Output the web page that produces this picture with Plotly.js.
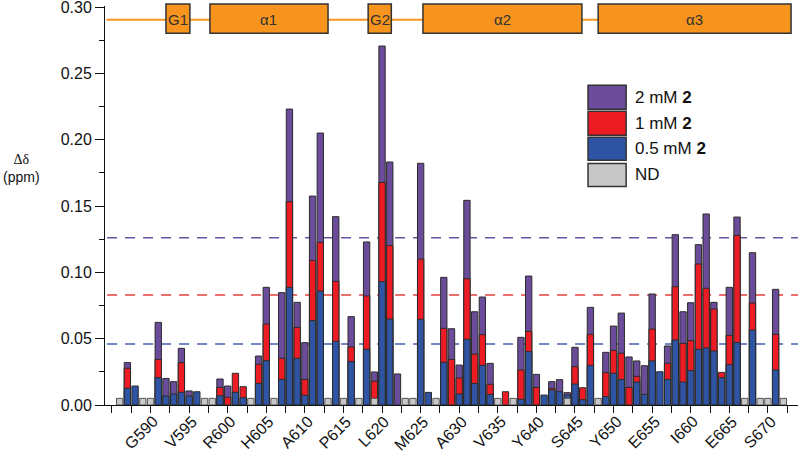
<!DOCTYPE html>
<html>
<head>
<meta charset="utf-8">
<script src="https://cdn.plot.ly/plotly-3.0.1.min.js"></script>
<style>html,body{margin:0;padding:0;background:#fff}#chart{width:800px;height:453px}</style>
</head>
<body>
<div id="chart"></div>
<script>
// residue numbers
var residues = [];
for (var r = 586; r <= 672; r++) residues.push(r);

// chemical shift perturbations (ppm), one entry per residue 586..672; null = not visible
var shift2mM = [
 null,0.032,null,null,null,0.0623,0.020,0.0176,0.0427,0.0106,
 null,null,null,0.0196,0.0143,null,null,null,0.0369,0.0887,
 null,0.0847,0.2231,0.0774,0.047,0.1575,0.205,null,0.142,null,
 0.0666,null,0.1229,0.0249,0.2706,0.1832,0.0234,null,null,0.1822,
 null,null,0.0962,0.0575,0.0301,0.1543,0.0703,0.0814,0.0314,null,
 null,null,0.051,0.0972,0.0231,null,0.0176,0.0191,0.0093,0.0435,
 null,0.0736,null,0.0397,0.0595,0.0693,0.0362,0.0332,0.0296,0.0837,
 null,0.0445,0.1284,0.0703,0.0771,0.1209,0.144,0.0774,null,0.0887,
 0.1417,null,0.1148,null,null,0.0872,null];
var shift1mM = [
 null,0.0277,null,null,null,0.0344,null,null,0.0319,null,
 null,null,null,0.0133,0.0058,0.0239,0.0138,null,0.0307,0.061,
 null,0.0352,0.1533,0.0585,0.0193,0.109,0.1226,null,0.0932,null,
 0.0437,null,0.0822,0.018,0.1678,0.1203,null,null,null,0.110,
 null,null,0.0578,0.0344,0.0204,0.0952,0.0384,0.053,0.0156,null,
 0.010,null,0.0264,0.0555,0.0133,null,0.0125,null,null,0.0289,
 0.013,0.0533,null,0.0244,0.0412,0.039,0.0133,0.0216,null,0.0573,
 null,0.0314,0.0892,0.0465,0.0485,0.1063,0.088,0.0724,0.0246,0.0525,
 0.1279,null,0.0769,null,null,0.0533,null];
var shift05mM = [
 null,0.0126,0.0143,null,null,0.0206,0.0068,0.0083,0.0096,0.0068,
 0.010,null,null,0.007,null,0.0096,0.0055,null,0.0163,0.0334,
 null,0.0193,0.0887,0.0352,0.0073,0.0636,0.0859,null,0.048,null,
 0.0327,null,0.042,null,0.093,0.0648,null,null,null,0.0646,
 0.0095,null,0.0322,null,0.0083,0.0495,0.0163,0.0299,0.008,null,
 null,null,0.0043,0.0402,null,0.0075,0.0113,0.010,0.0075,0.0158,
 0.004,0.0299,null,0.0063,0.0239,0.0193,null,0.0173,0.008,0.0332,
 0.0251,0.0193,0.049,0.0173,0.0259,0.042,0.043,0.0407,0.0206,0.0304,
 0.0472,null,0.0565,null,null,0.0264,null];
// not determined residues (drawn as small grey bars)
var ndResidues = [586,589,590,597,598,603,606,613,615,617,619,623,624,627,635,637,644,648,667,669,670,672];
var ndValue = 0.005;
var ndValues = ndResidues.map(function(){ return ndValue; });

// significance thresholds (ppm)
var thresholds = [0.126, 0.083, 0.046];
var thresholdColors = ['#6b52a3', '#e8403b', '#4360ad'];

// x tick labels
var tickResidues = [590,595,600,605,610,615,620,625,630,635,640,645,650,655,660,665,670];
var tickLabels = ['G590','V595','R600','H605','A610','P615','L620','M625','A630','V635','Y640','S645','Y650','E655','I660','E665','S670'];
var yTickVals = [0, 0.05, 0.10, 0.15, 0.20, 0.25, 0.30];

// secondary structure elements (residue ranges)
var domainNames = ['G1','\u03b11','G2','\u03b12','\u03b13'];
var domainStart = [592.0, 597.7, 618.2, 625.3, 648.0];
var domainEnd   = [595.1, 613.0, 621.2, 645.9, 673.0];
var domainLevel = 0.2905;

// legend
var seriesNames = ['2 mM <b>2</b>','1 mM <b>2</b>','0.5 mM <b>2</b>','ND'];
var seriesColors = ['#6b4c9a','#ed1c24','#2f54a3','#c8c8c8'];

var FONT = 'Arial, Liberation Sans, sans-serif';
var outline = {color:'#2b2b2b', width:1};
var bw = 0.82;
var traces = [
  {type:'bar', x:residues, y:shift2mM, width:bw, marker:{color:seriesColors[0], line:outline}, name:seriesNames[0]},
  {type:'bar', x:residues, y:shift1mM, width:bw, marker:{color:seriesColors[1], line:outline}, name:seriesNames[1]},
  {type:'bar', x:residues, y:shift05mM, width:bw, marker:{color:seriesColors[2], line:outline}, name:seriesNames[2]},
  {type:'bar', x:ndResidues, y:ndValues, width:bw, marker:{color:seriesColors[3], line:{color:'#555', width:1}}, name:seriesNames[3]}
];

// x tick marks every 2.5 residues (labels drawn as annotations below)
var tvals = [], ttext = [];
for (var t = 585; t <= 672.5; t += 2.5) { tvals.push(t); ttext.push(''); }

var shapes = [];
var annotations = [];
thresholds.forEach(function(v, i){
  shapes.push({type:'line', xref:'paper', yref:'y', x0:0.003, x1:1, y0:v, y1:v, layer:'below',
    line:{color:thresholdColors[i], width:1.5, dash:'10px,8px'}});
});
// domain line
shapes.push({type:'line', xref:'x', yref:'y', x0:584.3, x1:673, y0:0.2905, y1:0.2905, layer:'above',
  line:{color:'#f7941d', width:2}});
domainNames.forEach(function(n, i){
  shapes.push({type:'rect', xref:'x', yref:'paper', x0:domainStart[i], x1:domainEnd[i], y0:0.932, y1:1.005, layer:'above',
    fillcolor:'#f7941d', line:{color:'#333', width:1.5}});
  annotations.push({xref:'x', yref:'y', x:(domainStart[i]+domainEnd[i])/2, y:domainLevel, text:n, showarrow:false,
    xanchor:'center', yanchor:'middle', font:{family:FONT, size:15, color:'#333'}});
});
// x tick labels
tickResidues.forEach(function(res, i){
  annotations.push({xref:'x', yref:'paper', x:res, y:-0.0165, xshift:12, xanchor:'right', yanchor:'top',
    textangle:-45, text:tickLabels[i], showarrow:false, borderpad:0,
    font:{family:FONT, size:16, color:'#111'}});
});
// legend
var legY = [[0.8015,0.7412],[0.7362,0.6759],[0.6709,0.6131],[0.6055,0.5477]];
seriesNames.forEach(function(n, i){
  shapes.push({type:'rect', xref:'paper', yref:'paper', x0:0.697, x1:0.752, y0:legY[i][1], y1:legY[i][0], layer:'above',
    fillcolor:seriesColors[i], line:{color:'#333', width:1.5}});
  annotations.push({xref:'paper', yref:'paper', x:0.762, y:(legY[i][0]+legY[i][1])/2, xanchor:'left', yanchor:'middle',
    text:n, showarrow:false, font:{family:FONT, size:17, color:'#111'}});
});
// y axis title
annotations.push({xref:'paper', yref:'paper', x:-0.12, y:0.592, xanchor:'center', yanchor:'middle', showarrow:false,
  text:'<span style="font-family:Liberation Serif, serif">\u0394\u03b4</span><br>(ppm)', align:'center',
  font:{family:FONT, size:14, color:'#111'}});

var layout = {
  width:800, height:453,
  margin:{l:105, r:2, t:6, b:48},
  paper_bgcolor:'#fff', plot_bgcolor:'#fff',
  barmode:'overlay',
  showlegend:false,
  font:{family:FONT, size:16, color:'#111'},
  xaxis:{range:[584.1, 673.9], tickmode:'array', tickvals:tvals, ticktext:ttext,
    ticks:'outside', ticklen:7, tickcolor:'#111', showline:true, linecolor:'#111', linewidth:1,
    showgrid:false, zeroline:false},
  yaxis:{range:[0, 0.3008], tickmode:'array', tickvals:yTickVals, tickformat:'.2f', ticks:'outside', ticklen:9, tickcolor:'#111',
    showline:true, linecolor:'#111', linewidth:1, showgrid:false, zeroline:false, tickfont:{size:16},
    ticklabeloverflow:'allow',
    minor:{tickmode:'linear', tick0:0, dtick:0.025, ticks:'outside', ticklen:5, tickcolor:'#111', showgrid:false}},
  shapes:shapes,
  annotations:annotations
};
Plotly.newPlot('chart', traces, layout, {displayModeBar:false, staticPlot:true});
</script>
</body>
</html>
